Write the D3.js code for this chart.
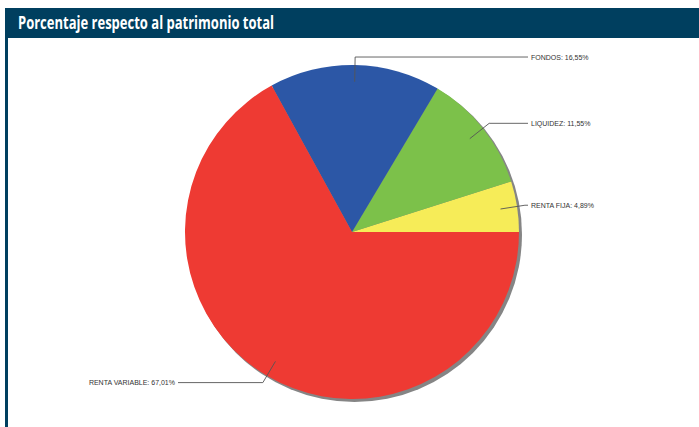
<!DOCTYPE html>
<html>
<head>
<meta charset="utf-8">
<script src="https://cdn.jsdelivr.net/npm/d3@7"></script>
<style>
  body { margin: 0; background: #fff; }
  svg { display: block; }
</style>
</head>
<body>
<svg id="chart" width="699" height="427"></svg>
<script>
const titleText = "Porcentaje respecto al patrimonio total";
const categories = ["RENTA FIJA", "LIQUIDEZ", "FONDOS", "RENTA VARIABLE"];
const values = [4.89, 11.55, 16.55, 67.01];
const colors = ["#f6ec58", "#7cc14a", "#2c57a6", "#ee3a33"];

const width = 699;
const height = 427;
const headerColor = "#003f5f";
const cx = 352;
const cy = 232;
const radius = 167;

const svg = d3.select("#chart");

// Header bar and left rule
svg.append("rect")
  .attr("x", 5).attr("y", 8)
  .attr("width", width - 5).attr("height", 30)
  .attr("fill", headerColor);
svg.append("rect")
  .attr("x", 5).attr("y", 38)
  .attr("width", 3).attr("height", height - 38)
  .attr("fill", headerColor);

svg.append("text")
  .attr("x", 18).attr("y", 29)
  .attr("fill", "#fff")
  .style("font-family", "'Open Sans', sans-serif")
  .style("font-size", "17px")
  .style("font-weight", 700)
  .attr("textLength", 256)
  .attr("lengthAdjust", "spacingAndGlyphs")
  .text(titleText);

const data = categories.map((c, i) => ({ label: c, value: values[i], color: colors[i] }));

// counterclockwise from 3 o'clock
const pie = d3.pie()
  .value((d) => d.value)
  .sort(null)
  .startAngle(Math.PI / 2)
  .endAngle(Math.PI / 2 - 2 * Math.PI);

const arcs = pie(data);
const arc = d3.arc().innerRadius(0).outerRadius(radius);

const g = svg.append("g").attr("transform", `translate(${cx},${cy})`);

// drop shadow
g.append("circle")
  .attr("cx", 2.5).attr("cy", 2.5)
  .attr("r", radius + 0.5)
  .attr("fill", "#858585");

g.selectAll("path.slice")
  .data(arcs)
  .join("path")
  .attr("class", "slice")
  .attr("d", arc)
  .attr("fill", (d) => d.data.color);

const fmt = (v) => v.toFixed(2).replace(".", ",") + "%";
const pointAt = (angle, r) => [r * Math.sin(angle), -r * Math.cos(angle)];

arcs.forEach((d) => {
  const mid = (d.startAngle + d.endAngle) / 2;
  const p0 = pointAt(mid, radius * 0.9);
  const p1 = pointAt(mid, radius + 8);
  const right = p1[0] > 0;
  const xEnd = right ? 176 : -174;
  const pts = [p0, p1, [xEnd, p1[1]]];

  g.append("path")
    .attr("d", d3.line()(pts))
    .attr("fill", "none")
    .attr("stroke", "#555")
    .attr("stroke-width", 0.9);

  g.append("text")
    .attr("x", right ? xEnd + 3 : xEnd - 3)
    .attr("y", p1[1] + 2.5)
    .attr("text-anchor", right ? "start" : "end")
    .attr("fill", "#333")
    .style("font-family", "'Liberation Sans', Arial, sans-serif")
    .style("font-size", "7px")
    .text(`${d.data.label}: ${fmt(d.data.value)}`);
});
</script>
</body>
</html>
